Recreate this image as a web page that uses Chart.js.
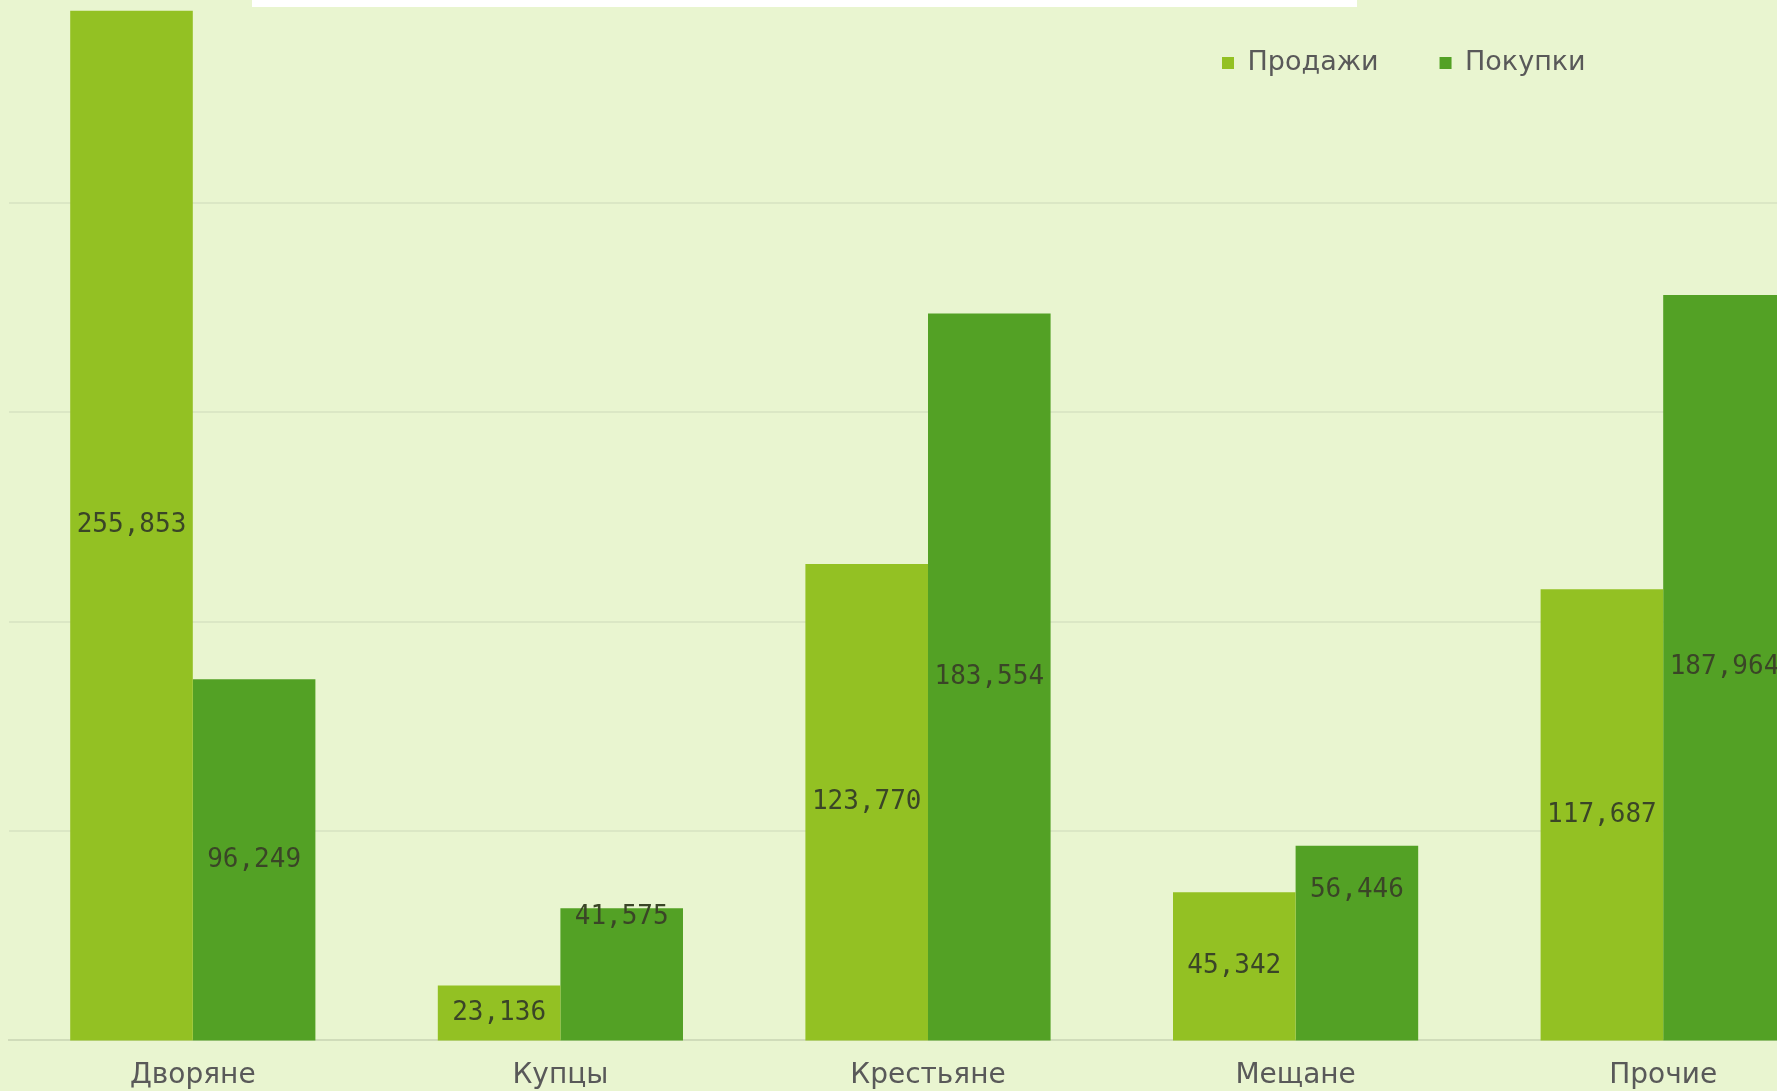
<!DOCTYPE html>
<html lang="ru">
<head>
<meta charset="utf-8">
<title>Продажи и покупки</title>
<script src="https://cdn.jsdelivr.net/npm/chart.js@4/dist/chart.umd.min.js"></script>
<style>
    html, body {
        margin: 0;
        padding: 0;
        background: #e9f5d0;
        overflow: hidden;
        width: 1777px;
        height: 1091px;
    }
    #wrap {
        position: absolute;
        left: 0;
        top: 0;
        width: 1850px;
        height: 1091px;
    }
    #titleBox {
        position: absolute;
        left: 252px;
        top: 0;
        width: 1105px;
        height: 7px;
        background: #ffffff;
        z-index: 2;
    }
</style>
</head>
<body>
<div id="titleBox"></div>
<div id="wrap"><canvas id="barChart"></canvas></div>
<script>
const categories = ["Дворяне", "Купцы", "Крестьяне", "Мещане", "Прочие"];
const sales = [255853, 23136, 123770, 45342, 117687];
const purchases = [96249, 41575, 183554, 56446, 187964];
const seriesNames = ["Продажи", "Покупки"];
const gridValues = [10000, 60000, 110000, 160000, 210000];

// where the value label sits inside each bar (share of visible bar height from base)
const salesLabelAt = [0.5, 0.5, 0.5, 0.5, 0.5];
const purchasesLabelAt = [0.5, 0.93, 0.5, 0.77, 0.5];

const colors = {
    sales: "#93c123",
    purchases: "#53a125",
    grid: "#dbe7c5",
    axis: "#d0dcba",
    text: "#595959",
    label: "#3a4527",
};

const barLabels = {
    id: "barLabels",
    afterDatasetsDraw(chart) {
        const ctx = chart.ctx;
        const bottom = chart.chartArea.bottom;
        ctx.save();
        ctx.font = "26px 'DejaVu Sans Mono'";
        ctx.fillStyle = colors.label;
        ctx.textAlign = "center";
        ctx.textBaseline = "middle";
        chart.data.datasets.forEach((ds, i) => {
            const meta = chart.getDatasetMeta(i);
            meta.data.forEach((bar, j) => {
                const base = Math.min(bar.base, bottom);
                const y = base - ds.labelAt[j] * (base - bar.y);
                ctx.fillText(ds.data[j].toLocaleString("en-US"), bar.x, y);
            });
        });
        ctx.restore();
    },
};

// legend floats over the plot, so it takes no room in the layout
const floatLegend = {
    id: "floatLegend",
    beforeLayout(chart) {
        const lg = chart.legend;
        if (lg && !lg._floating) {
            const fit = lg.fit.bind(lg);
            lg.fit = function () {
                fit();
                this.height = 0;
            };
            lg._floating = true;
        }
    },
    beforeDraw(chart) {
        const lg = chart.legend;
        const pad = lg.options.labels.padding;
        const w = lg.right - lg.left;
        lg.left = 1222 - pad;
        lg.right = lg.left + w;
        lg.top = 63 - pad - 13.5;
        lg.bottom = lg.top + 200;
        lg.width = w;
        lg.height = 200;
    },
};

document.addEventListener("DOMContentLoaded", () => {
    const ctx = document.getElementById("barChart").getContext("2d");

    new Chart(ctx, {
        type: "bar",
        data: {
            labels: categories,
            datasets: [
                {
                    label: seriesNames[0],
                    data: sales,
                    labelAt: salesLabelAt,
                    backgroundColor: colors.sales,
                    borderWidth: 0,
                },
                {
                    label: seriesNames[1],
                    data: purchases,
                    labelAt: purchasesLabelAt,
                    backgroundColor: colors.purchases,
                    borderWidth: 0,
                },
            ],
        },
        options: {
            responsive: true,
            maintainAspectRatio: false,
            animation: false,
            layout: {
                padding: { left: 9, right: 3, top: 0, bottom: -21 },
            },
            datasets: {
                bar: {
                    categoryPercentage: 0.667,
                    barPercentage: 1.0,
                },
            },
            plugins: {
                tooltip: { enabled: false },
                legend: {
                    position: "top",
                    align: "start",
                    labels: {
                        color: colors.text,
                        font: { family: "'DejaVu Sans'", size: 27 },
                        boxWidth: 12,
                        boxHeight: 12,
                        padding: 61,
                    },
                },
            },
            scales: {
                x: {
                    grid: { display: false, drawTicks: false },
                    border: { color: colors.axis, width: 2 },
                    ticks: {
                        color: colors.text,
                        font: { family: "'DejaVu Sans'", size: 28 },
                        padding: 19,
                    },
                },
                y: {
                    min: 10000,
                    max: 258400,
                    afterBuildTicks: (axis) => {
                        axis.ticks = gridValues.map((v) => ({ value: v }));
                    },
                    grid: {
                        drawTicks: false,
                        lineWidth: 2,
                        color: (c) => (c.tick && c.tick.value === gridValues[0] ? "rgba(0,0,0,0)" : colors.grid),
                    },
                    border: { display: false },
                    ticks: { display: false },
                },
            },
        },
        plugins: [barLabels, floatLegend],
    });
});
</script>
</body>
</html>
